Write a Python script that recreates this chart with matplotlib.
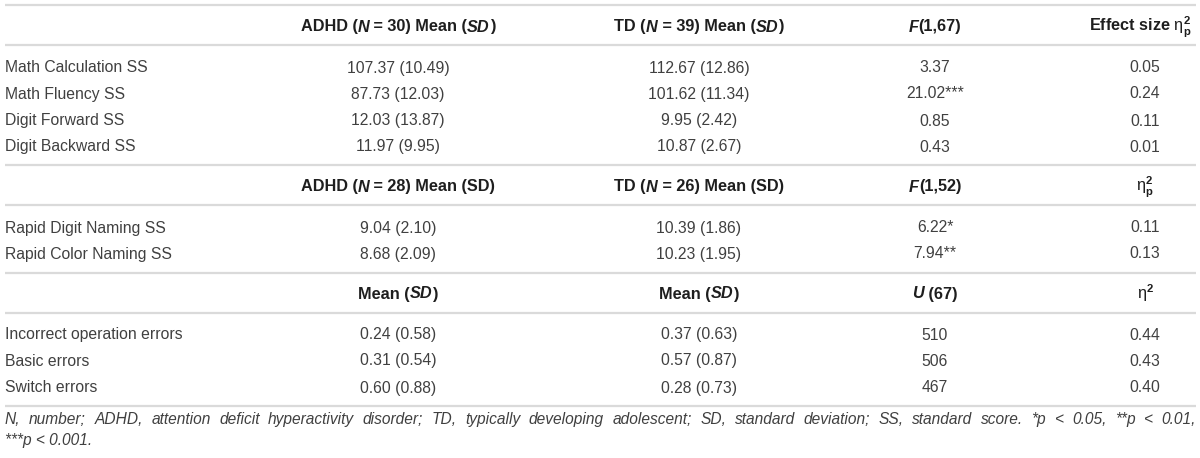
import matplotlib
matplotlib.use("Agg")
import matplotlib.pyplot as plt

# ---------------- data ----------------
sec1_labels = ["Math Calculation SS", "Math Fluency SS", "Digit Forward SS", "Digit Backward SS"]
sec1_adhd_mean = [107.37, 87.73, 12.03, 11.97]
sec1_adhd_sd = [10.49, 12.03, 13.87, 9.95]
sec1_td_mean = [112.67, 101.62, 9.95, 10.87]
sec1_td_sd = [12.86, 11.34, 2.42, 2.67]
sec1_stat = [3.37, 21.02, 0.85, 0.43]
sec1_sig = ["", "***", "", ""]
sec1_eff = [0.05, 0.24, 0.11, 0.01]

sec2_labels = ["Rapid Digit Naming SS", "Rapid Color Naming SS"]
sec2_adhd_mean = [9.04, 8.68]
sec2_adhd_sd = [2.10, 2.09]
sec2_td_mean = [10.39, 10.23]
sec2_td_sd = [1.86, 1.95]
sec2_stat = [6.22, 7.94]
sec2_sig = ["*", "**"]
sec2_eff = [0.11, 0.13]

sec3_labels = ["Incorrect operation errors", "Basic errors", "Switch errors"]
sec3_adhd_mean = [0.24, 0.31, 0.60]
sec3_adhd_sd = [0.58, 0.54, 0.88]
sec3_td_mean = [0.37, 0.57, 0.28]
sec3_td_sd = [0.63, 0.87, 0.73]
sec3_stat = [510, 506, 467]
sec3_eff = [0.44, 0.43, 0.40]

footnote_line1 = ("N, number; ADHD, attention deficit hyperactivity disorder; TD, typically developing "
                  "adolescent; SD, standard deviation; SS, standard score. *p < 0.05, **p < 0.01,")
footnote_line2 = "***p < 0.001."

# ---------------- layout ----------------
plt.rcParams["mathtext.fontset"] = "custom"
plt.rcParams["mathtext.rm"] = "Liberation Sans"
plt.rcParams["mathtext.bf"] = "Liberation Sans:bold"
plt.rcParams["mathtext.it"] = "Liberation Sans:italic"

W, H = 1200, 458
fig = plt.figure(figsize=(12, 4.58), dpi=100)
ax = fig.add_axes([0, 0, 1, 1])
ax.set_xlim(0, W)
ax.set_ylim(H, 0)
ax.axis("off")
renderer = fig.canvas.get_renderer()

FONT = "Liberation Sans"
FS = 11.3
HFS = 11.7
BODY = "#404040"
HEAD = "#1e1e1e"
LINE = "#dadada"
X0, X1 = 5, 1196
COLS = [398, 699, 935, 1145]

ETA_P = r"$\mathrm{\eta}^{\mathbf{2}}_{\mathbf{p}}$"
ETA = r"$\mathrm{\eta}^{\mathbf{2}}$"


def twidth(s, **kw):
    t = ax.text(0, 0, "|" + s + "|", fontfamily=FONT, **kw)
    t2 = ax.text(0, 0, "||", fontfamily=FONT, **kw)
    w = t.get_window_extent(renderer).width - t2.get_window_extent(renderer).width
    t.remove()
    t2.remove()
    return w


def bold(s):
    return (s, dict(fontweight="bold", color=HEAD, fontsize=HFS))


def bolditalic(s):
    return (s, dict(fontweight="bold", fontstyle="italic", color=HEAD, fontsize=HFS))


def draw_runs(xc, yc, runs):
    yb = yc + 5.5
    widths = [twidth(r[0], **r[1]) for r in runs]
    x = xc - sum(widths) / 2
    for r, w in zip(runs, widths):
        ax.text(x, yb, r[0], fontfamily=FONT, ha="left", va="baseline", **r[1])
        x += w


def cell(x, y, s, ha="center"):
    ax.text(x, y + 5.5, s, fontfamily=FONT, fontsize=FS, color=BODY, ha=ha, va="baseline")


def hline(y):
    ax.plot([X0, X1], [y, y], color=LINE, lw=1.6, solid_capstyle="butt")


for y in [5, 45, 165, 205, 273, 313, 406]:
    hline(y)

# headers
h1y, h2y, h3y = 26, 186, 293
draw_runs(COLS[0], h1y, [bold("ADHD ("), bolditalic("N"), bold(" = 30) Mean ("), bolditalic("SD"), bold(")")])
draw_runs(COLS[1], h1y, [bold("TD ("), bolditalic("N"), bold(" = 39) Mean ("), bolditalic("SD"), bold(")")])
draw_runs(COLS[2], h1y, [bolditalic("F"), bold("(1,67)")])
draw_runs(1140, h1y, [bold("Effect size " + ETA_P)])

draw_runs(COLS[0], h2y, [bold("ADHD ("), bolditalic("N"), bold(" = 28) Mean (SD)")])
draw_runs(COLS[1], h2y, [bold("TD ("), bolditalic("N"), bold(" = 26) Mean (SD)")])
draw_runs(COLS[2], h2y, [bolditalic("F"), bold("(1,52)")])
draw_runs(COLS[3], h2y, [bold(ETA_P)])

draw_runs(COLS[0], h3y, [bold("Mean ("), bolditalic("SD"), bold(")")])
draw_runs(COLS[1], h3y, [bold("Mean ("), bolditalic("SD"), bold(")")])
draw_runs(COLS[2], h3y, [bolditalic("U"), bold(" (67)")])
draw_runs(COLS[3], h3y, [bold(ETA)])

# body
sec1_y = [67, 93, 120, 146]
for i, y in enumerate(sec1_y):
    cell(X0, y, sec1_labels[i], ha="left")
    cell(COLS[0], y, f"{sec1_adhd_mean[i]:.2f} ({sec1_adhd_sd[i]:.2f})")
    cell(COLS[1], y, f"{sec1_td_mean[i]:.2f} ({sec1_td_sd[i]:.2f})")
    cell(COLS[2], y, f"{sec1_stat[i]:.2f}{sec1_sig[i]}")
    cell(COLS[3], y, f"{sec1_eff[i]:.2f}")

sec2_y = [227, 253]
for i, y in enumerate(sec2_y):
    cell(X0, y, sec2_labels[i], ha="left")
    cell(COLS[0], y, f"{sec2_adhd_mean[i]:.2f} ({sec2_adhd_sd[i]:.2f})")
    cell(COLS[1], y, f"{sec2_td_mean[i]:.2f} ({sec2_td_sd[i]:.2f})")
    cell(COLS[2], y, f"{sec2_stat[i]:.2f}{sec2_sig[i]}")
    cell(COLS[3], y, f"{sec2_eff[i]:.2f}")

sec3_y = [334, 360, 387]
for i, y in enumerate(sec3_y):
    cell(X0, y, sec3_labels[i], ha="left")
    cell(COLS[0], y, f"{sec3_adhd_mean[i]:.2f} ({sec3_adhd_sd[i]:.2f})")
    cell(COLS[1], y, f"{sec3_td_mean[i]:.2f} ({sec3_td_sd[i]:.2f})")
    cell(COLS[2], y, f"{sec3_stat[i]}")
    cell(COLS[3], y, f"{sec3_eff[i]:.2f}")

# footnote (justified first line)
FN = 11.2
fkw = dict(fontsize=FN, fontstyle="italic", color=BODY)
words = footnote_line1.split(" ")
ww = [twidth(w, **fkw) for w in words]
gap = (X1 - X0 - sum(ww)) / (len(words) - 1)
x = X0
for w, wdt in zip(words, ww):
    ax.text(x, 424, w, fontfamily=FONT, ha="left", va="baseline", **fkw)
    x += wdt + gap
ax.text(X0, 445, footnote_line2, fontfamily=FONT, ha="left", va="baseline", **fkw)

fig.savefig("out.png", dpi=100)
